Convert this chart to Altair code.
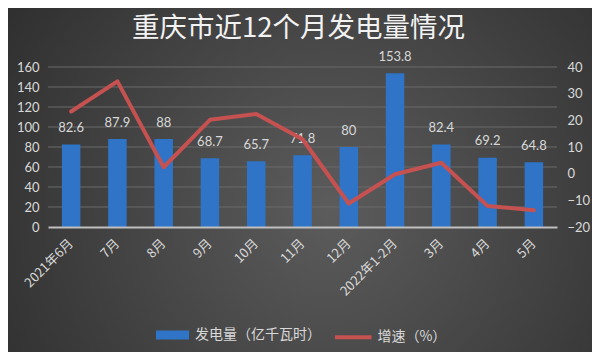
import altair as alt
import pandas as pd

months = ["2021年6月", "7月", "8月", "9月", "10月", "11月", "12月", "2022年1-2月", "3月", "4月", "5月"]
power = [82.6, 87.9, 88, 68.7, 65.7, 71.8, 80, 153.8, 82.4, 69.2, 64.8]
growth = [23.3, 34.6, 2.4, 20.2, 22.4, 12.9, -11.2, -0.2, 4.1, -12.1, -13.7]
grid_vals = [20, 40, 60, 80, 100, 120, 140, 160]
title_text = "重庆市近12个月发电量情况"
s1 = "发电量（亿千瓦时）"
s2 = "增速（%）"

df = pd.DataFrame({"month": months, "power": power, "growth": growth,
                   "s1": s1, "s2": s2})
grid_df = pd.DataFrame({"v": grid_vals})

W, H = 509, 160
PL, PT = 40, 59
TOTW, TOTH = 584, 344

label_color = "#d9d9d9"
num_font = "Lato"
cjk_font = "Noto Sans CJK SC"

xenc = alt.X("month:N", sort=months,
             scale=alt.Scale(paddingInner=0.6, paddingOuter=0.3),
             axis=alt.Axis(title=None, labelAngle=-45, labelAlign="right",
                           labelBaseline="middle", labelPadding=14,
                           labelFont=cjk_font, labelFontSize=13,
                           labelColor=label_color, ticks=False,
                           domainColor="#bfbfbf", domainWidth=2,
                           grid=False, zindex=1))

yleft = alt.Scale(domain=[0, 160], nice=False, zero=True)
yright = alt.Scale(domain=[-20, 40], nice=False, zero=False)
left_axis = alt.Axis(title=None, values=[0, 20, 40, 60, 80, 100, 120, 140, 160],
                     labelFont=num_font, labelFontSize=13,
                     labelColor=label_color, ticks=False, domain=False,
                     grid=False, labelPadding=9, zindex=1)

bg = alt.Chart(alt.Data(values=[{}])).mark_rect(
    fill=alt.RadialGradient(
        gradient="radial", x1=0.55, y1=0.55, r1=0, x2=0.55, y2=0.55, r2=0.8,
        stops=[alt.GradientStop(offset=0, color="#5c5c5c"),
               alt.GradientStop(offset=1, color="#252525")]),
).encode(x=alt.value(-PL), x2=alt.value(TOTW - PL),
         y=alt.value(-PT), y2=alt.value(TOTH - PT))

title = alt.Chart(alt.Data(values=[{"t": title_text}])).mark_text(
    font=cjk_font, fontSize=27.5, color="#f2f2f2", baseline="middle", align="center"
).encode(text="t:N", x=alt.value(250.5), y=alt.value(-38))

grid = alt.Chart(grid_df).mark_rule(color="#6a6a6a", strokeWidth=1).encode(
    y=alt.Y("v:Q", scale=yleft, axis=left_axis),
    x=alt.value(0), x2=alt.value(W))

bars = alt.Chart(df).mark_bar().encode(
    x=xenc,
    y=alt.Y("power:Q", scale=yleft, axis=left_axis),
    color=alt.Color("s1:N", scale=alt.Scale(domain=[s1], range=["#2f74c6"]),
                    legend=alt.Legend(title=None, orient="none", legendX=113.5, legendY=257,
                                      direction="horizontal", padding=0,
                                      symbolType="M-1.5,-0.41H1.5V0.41H-1.5Z",
                                      symbolSize=484, symbolStrokeWidth=0,
                                      labelOffset=11.5, labelFont=cjk_font,
                                      labelFontSize=14, labelColor=label_color,
                                      zindex=1)),
)

texts = alt.Chart(df).mark_text(
    font=num_font, fontSize=13, color=label_color, baseline="alphabetic", dy=-12.5
).encode(x=xenc, y=alt.Y("power:Q", scale=yleft, axis=left_axis), text=alt.Text("power:Q"))

left = alt.layer(grid, bars, texts)

line = alt.Chart(df).mark_line(strokeWidth=4, strokeCap="round", strokeJoin="round").encode(
    x=xenc,
    y=alt.Y("growth:Q", scale=yright,
            axis=alt.Axis(title=None, orient="right", values=[-20, -10, 0, 10, 20, 30, 40],
                          labelFont=num_font, labelFontSize=13,
                          labelColor=label_color, ticks=False, domain=False,
                          grid=False, labelPadding=10, zindex=1)),
    stroke=alt.Stroke("s2:N", scale=alt.Scale(domain=[s2], range=["#c55150"]),
                      legend=alt.Legend(title=None, orient="none", legendX=284.7, legendY=249.7,
                                        direction="horizontal", padding=0,
                                        symbolType="stroke", symbolSize=1340,
                                        symbolStrokeWidth=4, labelOffset=3.7,
                                        labelFont=cjk_font, labelFontSize=14,
                                        labelColor=label_color, zindex=1)),
)

chart = alt.layer(bg, title, left, line).resolve_scale(y="independent").properties(
    width=W, height=H,
    autosize=alt.AutoSizeParams(type="none"),
    padding={"left": PL, "top": PT, "right": TOTW - PL - W, "bottom": TOTH - PT - H},
).configure_view(stroke=None).configure(background="#3c3c3c")

chart.save("out.html", embed_options={"renderer": "svg", "actions": False})
